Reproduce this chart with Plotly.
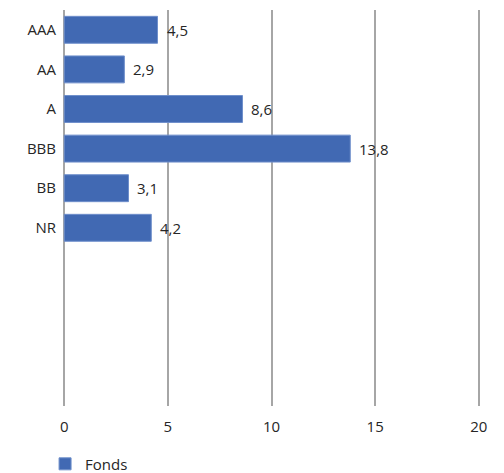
import plotly.graph_objects as go

# Rating breakdown of the fund
ratings = ["AAA", "AA", "A", "BBB", "BB", "NR"]
fonds = [4.5, 2.9, 8.6, 13.8, 3.1, 4.2]
x_ticks = [0, 5, 10, 15, 20]
n_slots = 10  # rating rows reserved on the axis

positions = list(range(len(ratings)))

fig = go.Figure(
    go.Bar(
        x=fonds,
        y=positions,
        orientation="h",
        name="Fonds",
        marker=dict(color="#4169B3", line=dict(color="#6F8FCB", width=1)),
        width=0.68,
    )
)

# value labels just past the end of each bar
for pos, val in zip(positions, fonds):
    fig.add_annotation(
        x=val,
        y=pos,
        text=f"{val:.1f}".replace(".", ","),
        showarrow=False,
        xanchor="left",
        xshift=7,
        font=dict(size=15, color="#262626"),
    )

fig.update_layout(
    width=504,
    height=473,
    margin=dict(l=63, r=24, t=10, b=67, autoexpand=False),
    plot_bgcolor="white",
    paper_bgcolor="white",
    separators=", ",
    font=dict(family="Open Sans", size=14, color="#262626"),
    showlegend=True,
    legend=dict(
        orientation="h",
        x=-0.043,
        xanchor="left",
        y=-0.105,
        yanchor="top",
        font=dict(size=15, color="#262626"),
    ),
    xaxis=dict(
        range=[-0.06, 20.06],
        tickvals=x_ticks,
        showgrid=True,
        gridcolor="#A6A6A6",
        gridwidth=2,
        zeroline=False,
        showline=False,
        ticks="",
        ticklabelstandoff=10,
        tickfont=dict(size=15),
        automargin=False,
    ),
    yaxis=dict(
        range=[n_slots - 0.5, -0.5],
        tickvals=positions,
        ticktext=ratings,
        showgrid=False,
        zeroline=False,
        showline=False,
        ticks="",
        ticklabelstandoff=6,
        tickfont=dict(size=15),
        automargin=False,
    ),
)

fig.write_html("out.html")
